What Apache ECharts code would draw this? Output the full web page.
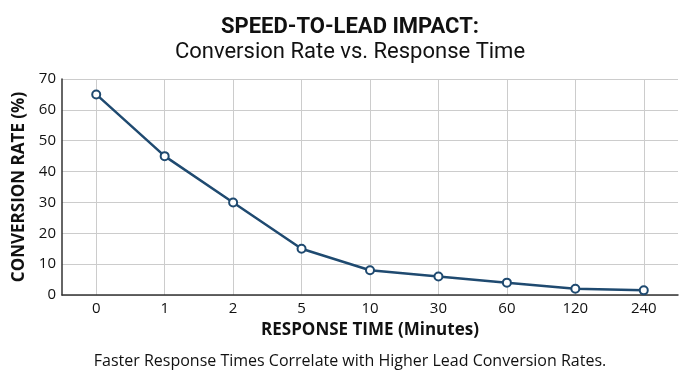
<!DOCTYPE html>
<html><head><meta charset="utf-8">
<script src="https://cdn.jsdelivr.net/npm/echarts@6/dist/echarts.min.js"></script>
<style>html,body{margin:0;padding:0;background:#fff}#c{width:700px;height:370px}</style>
</head><body><div id="c"></div>
<script>
const categories = ['0','1','2','5','10','30','60','120','240'];
const conversionRate = [65, 45, 30, 15, 8, 6, 4, 2, 1.5];
const yTicks = {min: 0, max: 70, interval: 10};

const chart = echarts.init(document.getElementById('c'));
chart.setOption({
  animation: false,
  title: [
    {text: 'SPEED-TO-LEAD IMPACT:', left: 'center', top: 11,
     textStyle: {fontFamily: 'Roboto', fontWeight: 'bold', fontSize: 22, color: '#111'}},
    {text: 'Conversion Rate vs. Response Time', left: 'center', top: 36,
     textStyle: {fontFamily: 'Roboto', fontWeight: 'normal', fontSize: 22, color: '#111'}},
    {text: 'Faster Response Times Correlate with Higher Lead Conversion Rates.', left: 'center', top: 348,
     textStyle: {fontFamily: 'Open Sans', fontWeight: 'normal', fontSize: 16, color: '#111'}}
  ],
  grid: {left: 62, right: 22, top: 79, bottom: 75},
  xAxis: {
    type: 'category', data: categories, boundaryGap: true,
    name: 'RESPONSE TIME (Minutes)', nameLocation: 'middle', nameGap: 27,
    nameTextStyle: {fontFamily: 'Open Sans', fontWeight: 'bold', fontSize: 17, color: '#111'},
    axisLine: {lineStyle: {color: '#333', width: 1.5}},
    axisTick: {show: false},
    axisLabel: {fontFamily: 'Open Sans', fontSize: 15, color: '#111', margin: 6},
    splitLine: {show: true, alignWithLabel: true, lineStyle: {color: '#cccccc', width: 1}}
  },
  yAxis: {
    type: 'value', min: yTicks.min, max: yTicks.max, interval: yTicks.interval,
    name: 'CONVERSION RATE (%)', nameLocation: 'middle', nameGap: 31, nameRotate: 90,
    nameTextStyle: {fontFamily: 'Open Sans', fontWeight: 'bold', fontSize: 17, color: '#111'},
    axisLine: {show: true, lineStyle: {color: '#333', width: 1.5}},
    axisTick: {show: false},
    axisLabel: {fontFamily: 'Open Sans', fontSize: 15, color: '#111', margin: 6},
    splitLine: {show: true, lineStyle: {color: '#cccccc', width: 1}}
  },
  series: [{
    type: 'line', data: conversionRate,
    symbol: 'circle', symbolSize: 8,
    lineStyle: {color: '#1f4a70', width: 2.5},
    itemStyle: {color: '#ffffff', borderColor: '#1f4a70', borderWidth: 2}
  }]
});
</script></body></html>
